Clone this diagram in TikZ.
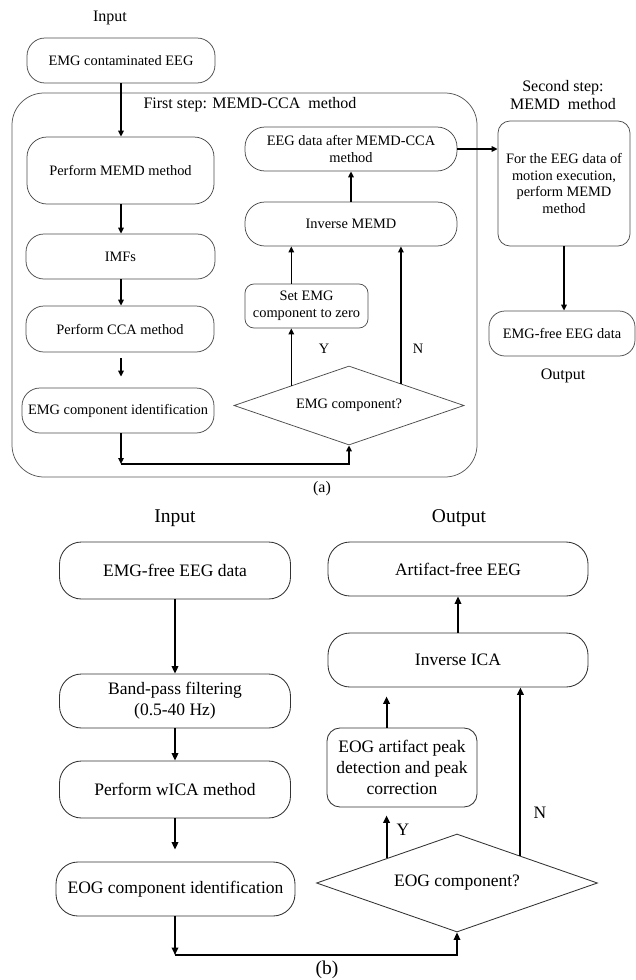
\documentclass[tikz,border=0pt]{standalone}
\usepackage{fontspec}
\setmainfont{Liberation Serif}
\usetikzlibrary{shapes.geometric,arrows.meta,calc}
\tikzset{
  fa/.style={font=\fontsize{14.4}{16.7}\selectfont},
  fb/.style={font=\fontsize{17.5}{21}\selectfont},
  la/.style={font=\fontsize{16}{18.5}\selectfont, align=center, inner sep=0pt},
  lb/.style={font=\fontsize{19.5}{23}\selectfont, align=center, inner sep=0pt},
  boxa/.style={draw=black!70, line width=0.75pt, align=center, inner sep=0pt, fa},
  boxb/.style={draw=black!80, line width=0.85pt, align=center, inner sep=0pt, fb},
  diaa/.style={diamond, shape aspect=2.9, draw=black!70, line width=0.75pt, inner sep=0pt, fa},
  diab/.style={diamond, shape aspect=2.9, draw=black!80, line width=0.85pt, inner sep=0pt, fb},
  arra/.style={line width=1.5pt, -{Triangle[length=6pt,width=5.5pt]}},
  arrb/.style={line width=2pt, -{Triangle[length=7.5pt,width=6.5pt]}},
}
\begin{document}
\begin{tikzpicture}[x=1pt,y=-1pt]
\useasboundingbox (0,0) rectangle (636,980);
% ---------- (a) ----------
\node[la] (inA) at (110,18) {Input};
\node[boxa, rounded corners=18pt, minimum width=188pt, minimum height=45pt] (n1) at (121,60.5) {EMG contaminated EEG};
\node[draw=black!65, line width=0.75pt, rounded corners=32pt, minimum width=465pt, minimum height=384pt, inner sep=0pt] (frame) at (244.5,285) {};
\node[la] (first) at (250,105) {First step: MEMD-CCA\ \ method};
\node[boxa, rounded corners=20pt, minimum width=187pt, minimum height=67pt] (n2) at (120.5,170.5) {Perform MEMD method};
\node[boxa, rounded corners=18pt, minimum width=189pt, minimum height=45pt] (n3) at (120.5,256.5) {IMFs};
\node[boxa, rounded corners=18pt, minimum width=188pt, minimum height=46pt] (n4) at (120,329) {Perform CCA method};
\node[boxa, rounded corners=18pt, minimum width=192pt, minimum height=45pt] (n5) at (118,410.5) {EMG component identification};
\node[diaa, minimum width=230pt, minimum height=79pt] (d1) at (349,405.5) {EMG component?};
\node[boxa, rounded corners=9pt, minimum width=123pt, minimum height=44pt] (setz) at (306.5,306) {Set EMG\\component to zero};
\node[boxa, rounded corners=20pt, minimum width=212pt, minimum height=44pt] (inv1) at (351,224) {Inverse MEMD};
\node[boxa, rounded corners=20pt, minimum width=212pt, minimum height=44pt] (after) at (351,149) {EEG data after MEMD-CCA\\method};
\node[la] (second) at (563,95) {Second step:\\MEMD\ \ method};
\node[boxa, rounded corners=12pt, minimum width=132pt, minimum height=125pt] (sec) at (564,183.5) {For the EEG data of\\motion execution,\\perform MEMD\\method};
\node[boxa, rounded corners=16pt, minimum width=146pt, minimum height=45pt] (emgfree) at (562,333.5) {EMG-free EEG data};
\node[la] (outA) at (563,376) {Output};
\node[la] (capA) at (322,489) {(a)};
\node[fa, inner sep=0pt] (yA) at (324,349) {Y};
\node[fa, inner sep=0pt] (nA) at (418,349) {N};
\coordinate (xa) at (121,0);
\coordinate (c1) at (121,464);
\coordinate (y1) at ($(d1.west)!0.5!(d1.north)$);
\coordinate (no1) at ($(d1.east)!0.55!(d1.north)$);

\draw[arra] (n1.south -| xa) -- (n2.north -| xa);
\draw[arra] (n2.south -| xa) -- (n3.north -| xa);
\draw[arra] (n3.south -| xa) -- (n4.north -| xa);
\draw[arra, shorten <=6pt, shorten >=11pt] (n4.south -| xa) -- (n5.north -| xa);
\draw[arra] (n5.south -| c1) -- (c1);
\draw[arra] (c1) -| (d1.south);
\draw[arra] (y1) -- (y1 |- setz.south);
\draw[arra] (y1 |- setz.north) -- (y1 |- inv1.south);
\draw[arra] (no1) -- (no1 |- inv1.south);
\draw[arra] (inv1.north) -- (after.south);
\draw[arra] (after.east) -- (after.east -| sec.west);
\draw[arra] (sec.south) -- (sec.south |- emgfree.north);

% ---------- (b) ----------
\node[lb] (inB) at (175,518) {Input};
\node[lb] (outB) at (459,518) {Output};
\node[boxb, rounded corners=22pt, minimum width=231pt, minimum height=57pt] (m1) at (175,570.5) {EMG-free EEG data};
\node[boxb, rounded corners=22pt, minimum width=231pt, minimum height=54pt] (m2) at (175,701) {Band-pass filtering\\(0.5-40 Hz)};
\node[boxb, rounded corners=22pt, minimum width=231pt, minimum height=57pt] (m3) at (175,789.5) {Perform wICA method};
\node[boxb, rounded corners=22pt, minimum width=239pt, minimum height=54pt] (m4) at (175.5,889) {EOG component identification};
\node[diab, minimum width=281pt, minimum height=98pt] (d2) at (457,883) {EOG component?};
\node[boxb, rounded corners=13pt, minimum width=150pt, minimum height=79pt] (pk) at (402,767.5) {EOG artifact peak\\detection and peak\\correction};
\node[boxb, rounded corners=22pt, minimum width=260pt, minimum height=54pt] (invica) at (458,660) {Inverse ICA};
\node[boxb, rounded corners=22pt, minimum width=260pt, minimum height=54pt] (artfree) at (458,569) {Artifact-free EEG};
\node[lb] (capB) at (327,970) {(b)};
\node[fb, inner sep=0pt] (yB) at (403,830) {Y};
\node[fb, inner sep=0pt] (nB) at (540,813) {N};
\coordinate (xb) at (175,0);
\coordinate (c2) at (175,955);
\coordinate (y2) at ($(d2.west)!0.5!(d2.north)$);
\coordinate (no2) at ($(d2.east)!0.55!(d2.north)$);

\draw[arrb] (m1.south -| xb) -- (m2.north -| xb);
\draw[arrb] (m2.south -| xb) -- (m3.north -| xb);
\draw[arrb, shorten >=12pt] (m3.south -| xb) -- (m4.north -| xb);
\draw[arrb] (m4.south -| c2) -- (c2);
\draw[arrb] (c2) -| (d2.south);
\draw[arrb, shorten >=8pt] (y2) -- (y2 |- pk.south);
\draw[arrb, shorten >=9pt] (y2 |- pk.north) -- (y2 |- invica.south);
\draw[arrb] (no2) -- (no2 |- invica.south);
\draw[arrb] (invica.north -| artfree.south) -- (artfree.south);
\end{tikzpicture}
\end{document}
